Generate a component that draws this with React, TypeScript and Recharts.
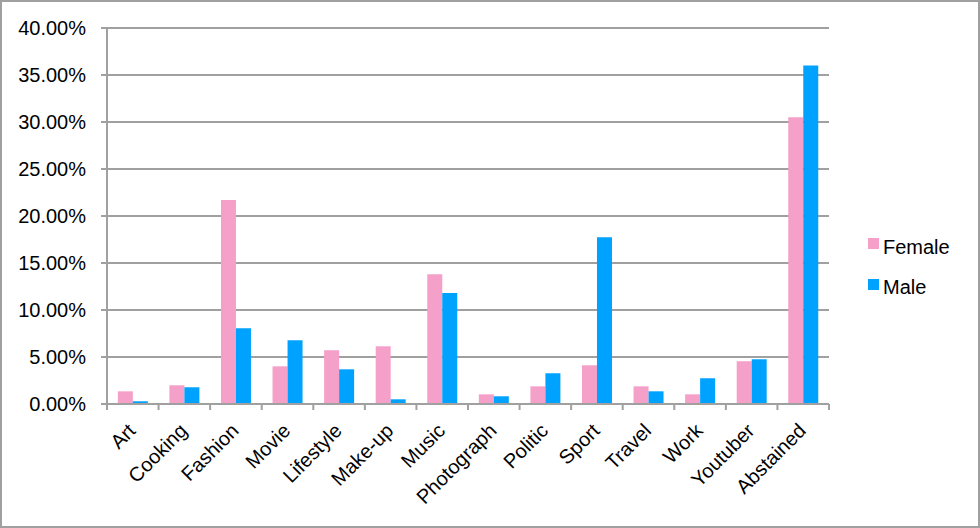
import React from "react"
import {
  BarChart,
  Bar,
  XAxis,
  YAxis,
  CartesianGrid,
  Legend,
} from "recharts"

const categories = [
  "Art",
  "Cooking",
  "Fashion",
  "Movie",
  "Lifestyle",
  "Make-up",
  "Music",
  "Photograph",
  "Politic",
  "Sport",
  "Travel",
  "Work",
  "Youtuber",
  "Abstained",
]

const female = [1.35, 1.99, 21.7, 4.01, 5.72, 6.14, 13.8, 1.03, 1.88, 4.12, 1.88, 1.03, 4.55, 30.5]
const male = [0.29, 1.78, 8.06, 6.78, 3.69, 0.5, 11.8, 0.82, 3.27, 17.75, 1.35, 2.74, 4.76, 36.0]

const yTicks = [0, 5, 10, 15, 20, 25, 30, 35, 40]

const data = categories.map((name, i) => ({
  name,
  Female: female[i],
  Male: male[i],
}))

const W = 980
const H = 528
const LEGEND_W = 110
// recharts takes the legend width off the plot, so the right margin leaves it out
const MARGIN = { top: 28, right: 151 - LEGEND_W, left: 0, bottom: 0 }
const Y_AXIS_W = 107
const X_AXIS_H = 124
const GRID = "#a0a0a0"
const FONT = "'Liberation Sans', Arial, Helvetica, sans-serif"

const band = (W - 151 - Y_AXIS_W) / categories.length

function CategoryTick(props: any) {
  const { x, y, payload, index } = props
  const last = index === categories.length - 1
  return (
    <g>
      <line x1={x - band / 2} x2={x - band / 2} y1={y} y2={y + 6} stroke={GRID} strokeWidth={2} />
      {last && (
        <line x1={x + band / 2} x2={x + band / 2} y1={y} y2={y + 6} stroke={GRID} strokeWidth={2} />
      )}
      <text
        x={0}
        y={0}
        transform={`translate(${x + 4},${y + 28}) rotate(-45)`}
        textAnchor="end"
        fontSize={20}
        fontFamily={FONT}
        fill="#000"
      >
        {payload.value}
      </text>
    </g>
  )
}

function LegendBox({ payload }: any) {
  return (
    <svg width={LEGEND_W} height={80}>
      {(payload || []).map((p: any, i: number) => (
        <g key={p.value}>
          <rect x={2} y={8 + i * 41} width={11} height={11} fill={p.color} />
          <text x={17} y={24 + i * 40} fontSize={20} fontFamily={FONT} fill="#000">
            {p.value}
          </text>
        </g>
      ))}
    </svg>
  )
}

export default function App() {
  return (
    <div style={{ position: "absolute", top: 0, left: 0, width: W, height: H, background: "#fff" }}>
      <BarChart
        width={W}
        height={H}
        data={data}
        margin={MARGIN}
        barCategoryGap="21%"
        barGap={0}
      >
        <CartesianGrid vertical={false} stroke={GRID} strokeWidth={2} />
        <XAxis
          dataKey="name"
          height={X_AXIS_H}
          interval={0}
          tickLine={false}
          tickSize={0}
          tickMargin={0}
          axisLine={{ stroke: GRID, strokeWidth: 2 }}
          tick={<CategoryTick />}
        />
        <YAxis
          width={Y_AXIS_W}
          domain={[0, 40]}
          ticks={yTicks}
          interval={0}
          tickSize={6}
          tickMargin={15}
          tickLine={{ stroke: GRID, strokeWidth: 2 }}
          axisLine={{ stroke: GRID, strokeWidth: 2 }}
          tickFormatter={(v: number) => v.toFixed(2) + "%"}
          tick={{ fontSize: 20, fontFamily: FONT, fill: "#000" }}
        />
        <Legend
          verticalAlign="middle"
          align="right"
          layout="horizontal"
          wrapperStyle={{ left: 866, top: 230, width: LEGEND_W, height: 80 }}
          content={<LegendBox />}
        />
        <Bar dataKey="Female" fill="#f5a0c9" isAnimationActive={false} />
        <Bar dataKey="Male" fill="#00a2ff" isAnimationActive={false} />
      </BarChart>
      <div
        style={{
          position: "absolute",
          top: 0,
          left: 0,
          width: W,
          height: H,
          boxSizing: "border-box",
          border: `2px solid ${GRID}`,
          pointerEvents: "none",
        }}
      />
    </div>
  )
}
